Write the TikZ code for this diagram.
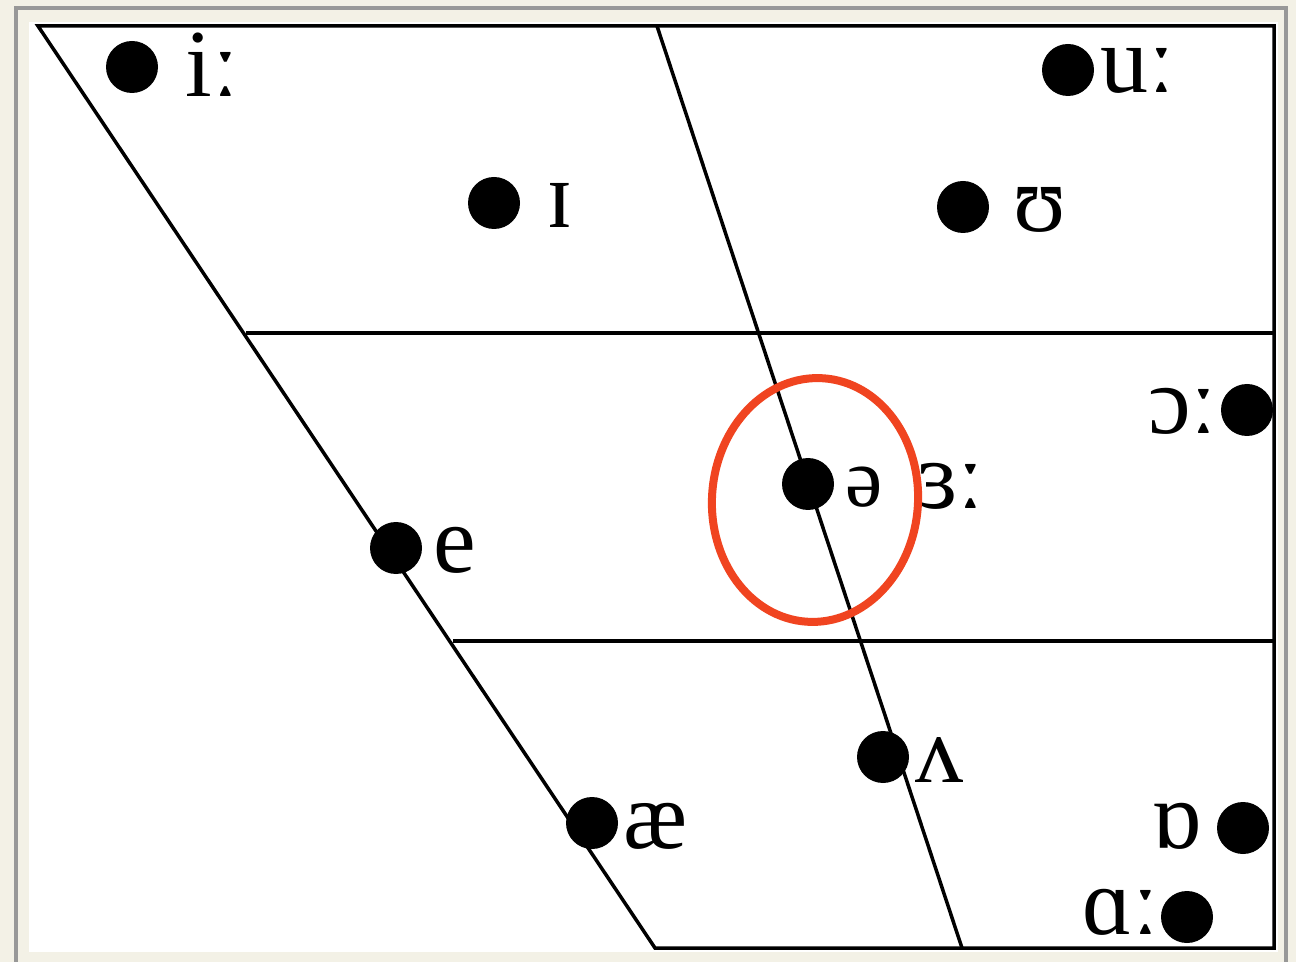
\documentclass[tikz,border=0pt]{standalone}
\usepackage{fontspec}
\setmainfont{Liberation Serif}
\begin{document}
\begin{tikzpicture}[x=0.5pt,y=-0.5pt,
  chart/.style={line width=1.75pt,black},
  dot/.style={circle,fill=black,inner sep=0pt,minimum size=26pt},
  lab/.style={inner sep=0pt,font=\fontsize{48}{48}\selectfont},
  smalllab/.style={inner sep=0pt,font=\fontsize{42}{42}\selectfont}]
\definecolor{cream}{RGB}{243,241,230}
\definecolor{framegray}{RGB}{152,152,152}
\definecolor{markred}{RGB}{240,68,32}
\useasboundingbox (0,0) rectangle (1296,962);
\fill[cream] (0,0) rectangle (1296,962);
\draw[framegray,line width=1.7pt] (16,970) -- (16,8) -- (1286,8) -- (1286,970);
\fill[white] (29,22) rectangle (1278,952);
% chart corners
\coordinate (tl) at (38,26);
\coordinate (tm) at (657,26);
\coordinate (tr) at (1274,26);
\coordinate (bl) at (655,948);
\coordinate (bm) at (962,948);
\coordinate (br) at (1274,948);
\coordinate (h1l) at (246,333);
\coordinate (h1r) at (1274,333);
\coordinate (h2l) at (453,641);
\coordinate (h2r) at (1274,641);
\draw[chart] (tl) -- (tr) -- (br) -- (bl) -- cycle;
\draw[chart] (tm) -- (bm);
\draw[chart] (h1l) -- (h1r);
\draw[chart] (h2l) -- (h2r);
% dots
\node[dot] (di) at (132,67) {};
\node[dot] (dI) at (494,203) {};
\node[dot] (du) at (1068,70) {};
\node[dot] (dU) at (963,207) {};
\node[dot] (do) at (1247,410) {};
\node[dot] (dschwa) at (808,484) {};
\node[dot] (de) at (396,548) {};
\node[dot] (dv) at (883,757) {};
\node[dot] (dae) at (592,823) {};
\node[dot] (dO) at (1243,828) {};
\node[dot] (da) at (1187,917) {};
% labels
\node[lab,anchor=base west] (li) at (185,97) {iː};
\node[lab,anchor=base west] (lI) at (546,228) {ɪ};
\node[lab,anchor=base west] (lu) at (1100,93) {uː};
\node[lab,anchor=base west] (lU) at (1013,232) {ʊ};
\node[lab,anchor=base east] (lo) at (1218,434) {ɔː};
\node[smalllab,anchor=base west] (lschwa) at (845,507) {ə};
\node[lab,anchor=base west] (ler) at (917,509) {ɜː};
\node[lab,anchor=base west] (le) at (433,572) {e};
\node[lab,anchor=base west] (lv) at (915,782) {ʌ};
\node[lab,anchor=base west] (lae) at (623,848) {æ};
\node[lab,anchor=base east] (lO) at (1202,848) {ɒ};
\node[lab,anchor=base east] (la) at (1160,934) {ɑː};
% red highlight
\draw[markred,line width=4pt,rotate around={-4:(815,500)}] (815,500) ellipse [x radius=51.5pt, y radius=61pt];
\end{tikzpicture}
\end{document}
